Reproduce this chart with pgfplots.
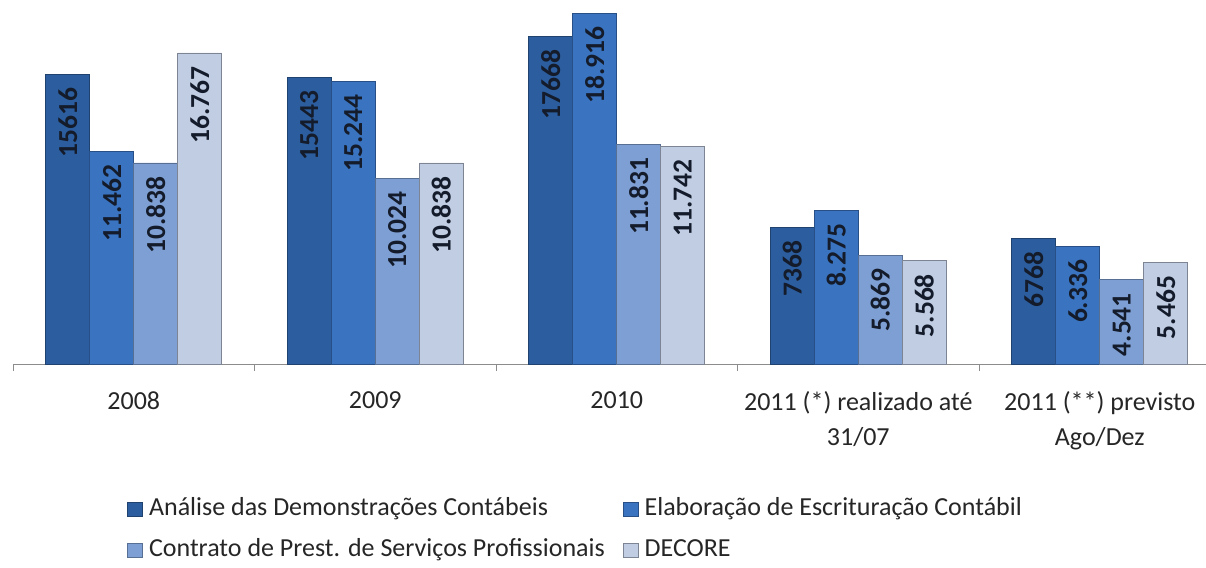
\documentclass[border=0pt]{standalone}
\usepackage{fontspec}
\setmainfont{Carlito}
\usepackage{graphicx}
\usepackage{pgfplots}
\pgfplotsset{compat=1.18}
\definecolor{cA}{HTML}{2C5E9F}
\definecolor{cB}{HTML}{3A73BF}
\definecolor{cC}{HTML}{7E9FD3}
\definecolor{cD}{HTML}{C0CDE3}
\definecolor{axisgray}{HTML}{8C8C8C}
\definecolor{lbl}{HTML}{141C2C}

\pgfplotsset{
  barstyle/.style={
    ybar, bar width=44pt, bar shift=#1,
    line width=0.8pt,
    nodes near coords={\rotatebox{90}{\pgfmathprintnumber{\pgfplotspointmeta}}},
    every node near coord/.append style={anchor=north, xshift=#1, inner ysep=13pt, inner xsep=0pt,
      font=\fontsize{27.5}{30}\selectfont\bfseries, text=lbl},
  },
  legimg/.style={legend image code/.code={\fill[##1] (0pt,-7pt) rectangle (15pt,7pt);}},
}

\begin{document}
\begin{tikzpicture}[x=1pt,y=1pt]
\path[use as bounding box] (0,0) rectangle (1206,567);
\begin{axis}[
  at={(13pt,203pt)}, anchor=south west,
  scale only axis, width=1193pt, height=364pt,
  xmin=-0.5, xmax=4.44, ymin=0, ymax=19620,
  axis y line=none, axis x line*=bottom,
  x axis line style={draw=axisgray, line width=0.9pt, -},
  xtick={0,1,2,3,4},
  xticklabels={2008,2009,2010,{2011 (*) realizado até\\31/07},{2011 (**) previsto\\Ago/Dez}},
  xticklabel style={align=center, anchor=north, yshift=-24pt,
    font=\fontsize{26}{35}\selectfont, text=black!85},
  major tick length=0pt,
  extra x ticks={-0.5,0.5,1.5,2.5,3.5},
  extra x tick labels={},
  extra x tick style={tick align=outside, major tick length=7pt,
    tick style={draw=axisgray, line width=0.9pt}},
  clip=false,
  /pgf/number format/assume math mode=true,
  legend columns=2,
  legend style={at={(0.0956,-0.455)}, anchor=west, draw=none, fill=none,
    inner sep=0pt, row sep=17pt,
    font=\fontsize{26}{30}\selectfont, text=black!85,
    /tikz/every odd column/.append style={column sep=6pt},
    /tikz/every even column/.append style={column sep=18pt},
    nodes={inner sep=0pt, text depth=6pt, text height=18pt}},
  legend cell align=left,
]
\addplot[barstyle=-66pt, draw=cA!70!black, fill=cA,
  legimg, /pgf/number format/1000 sep={}]
  coordinates {(0,15616) (1,15443) (2,17668) (3,7368) (4,6768)};
\addlegendentry{Análise das Demonstrações Contábeis}
\addplot[barstyle=-22pt, draw=cB!70!black, fill=cB,
  legimg, /pgf/number format/1000 sep={.}]
  coordinates {(0,11462) (1,15244) (2,18916) (3,8275) (4,6336)};
\addlegendentry{Elaboração de Escrituração Contábil}
\addplot[barstyle=22pt, draw=cC!70!black, fill=cC,
  legimg, /pgf/number format/1000 sep={.}]
  coordinates {(0,10838) (1,10024) (2,11831) (3,5869) (4,4541)};
\addlegendentry{Contrato de Prest. de Serviços Profissionais}
\addplot[barstyle=66pt, draw=cD!65!black, fill=cD,
  legimg, /pgf/number format/1000 sep={.}]
  coordinates {(0,16767) (1,10838) (2,11742) (3,5568) (4,5465)};
\addlegendentry{DECORE}
\end{axis}
\end{tikzpicture}
\end{document}
